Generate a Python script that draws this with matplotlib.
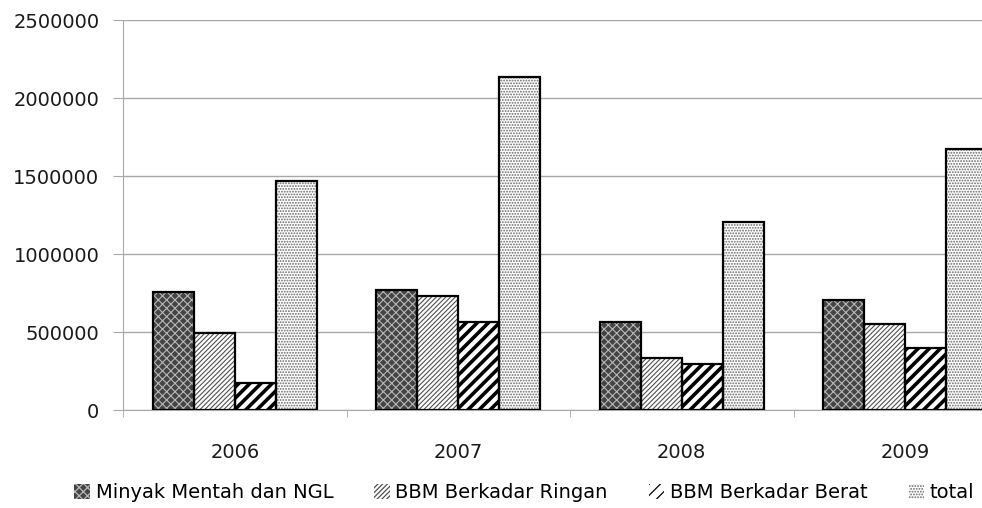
import matplotlib.pyplot as plt
from matplotlib.ticker import FuncFormatter
import numpy as np

years = ["2006", "2007", "2008", "2009"]
minyak = [756000, 769000, 564000, 705000]
ringan = [494000, 731000, 333000, 551000]
berat = [173000, 564000, 295000, 397000]
total = [1468000, 2135000, 1205000, 1673000]
names = ["Minyak Mentah dan NGL", "BBM Berkadar Ringan", "BBM Berkadar Berat", "total"]

# face, hatch, hatch colour, hatch width
styles = [
    ("#444444", "xxxx", "#b8b8b8", 0.8),
    ("white", "///////", "#505050", 0.8),
    ("white", "///", "black", 2.6),
    ("white", "......", "#686868", 0.9),
]

plt.rcParams['font.family'] = 'DejaVu Sans'
fig = plt.figure(figsize=(9.82, 5.08), dpi=100)
ax = fig.add_axes([123/982, 98/508, 894/982, 390/508])

x = np.arange(len(years))
w = 0.184
handles = []
for i, vals in enumerate([minyak, ringan, berat, total]):
    fc, h, hc, hw = styles[i]
    plt.rcParams['hatch.linewidth'] = hw
    plt.rcParams['hatch.color'] = hc
    pos = x + (i - 1.5) * w
    b = ax.bar(pos, vals, w, color=fc, hatch=h, edgecolor=hc, linewidth=0, zorder=2)
    ax.bar(pos, vals, w, fill=False, edgecolor="black", linewidth=1.6, zorder=3)
    handles.append(b)

ax.set_xlim(-0.5, 3.5)
ax.set_ylim(0, 2500000)
ax.set_yticks(np.arange(0, 2500001, 500000))
ax.yaxis.set_major_formatter(FuncFormatter(lambda v, p: "%d" % v))
ax.yaxis.grid(True, color="#a8a8a8", linewidth=1)
ax.set_axisbelow(True)
for s in ["top", "right"]:
    ax.spines[s].set_visible(False)
for s in ["left", "bottom"]:
    ax.spines[s].set_color("#a8a8a8")
ax.tick_params(axis="y", length=7, color="#a8a8a8", pad=10, labelsize=14, labelcolor="#1a1a1a")
ax.set_xticks(x)
ax.set_xticklabels(years)
ax.set_xticks(np.arange(-0.5, 4, 1), minor=True)
ax.tick_params(axis="x", which="major", length=0, pad=24, labelsize=14, labelcolor="#1a1a1a")
ax.tick_params(axis="x", which="minor", length=5, color="#a8a8a8")

fig.legend(handles, names, loc="center", bbox_to_anchor=(0.534, 0.03), ncol=4,
           frameon=False, fontsize=14, handlelength=0.8, handleheight=0.8,
           handletextpad=0.3, columnspacing=2.1)

fig.savefig("out.png", dpi=100)
